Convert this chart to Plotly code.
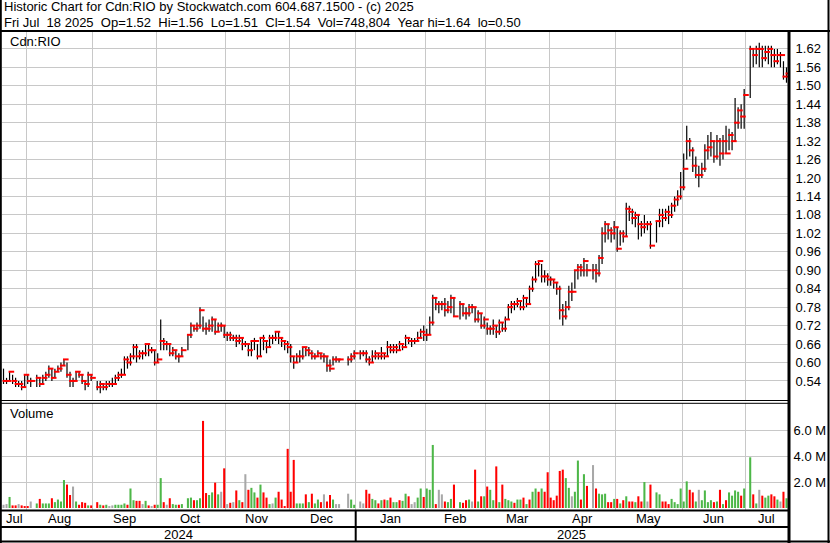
import pandas as pd
import plotly.graph_objects as go

# ---------------- data (weekday slots; None = market holiday) ----------------
DATES = pd.bdate_range("2024-07-22", "2025-07-18")

CLOSE = (
    [0.54, 0.54, 0.57, 0.54, 0.53, 0.53, 0.52, 0.56]
    + [0.54, 0.54, None, 0.55, 0.53, 0.55, 0.56, 0.58, 0.55, 0.57, 0.58, 0.59, 0.61, 0.56, 0.54, 0.54, 0.57, 0.56, 0.54, 0.53, 0.56, 0.55]
    + [None, 0.52, 0.53, 0.52, 0.53, 0.53, 0.53, 0.55, 0.56, 0.56, 0.61, 0.60, 0.62, 0.65, 0.62, 0.63, 0.63, 0.66, 0.64, 0.64, 0.60]
    + [0.61, 0.67, 0.66, 0.66, 0.63, 0.64, 0.62, 0.62, 0.64, None, 0.69, 0.72, 0.71, 0.72, 0.77, 0.71, 0.71, 0.72, 0.74, 0.70, 0.72, 0.72, 0.69]
    + [0.69, 0.68, 0.68, 0.67, 0.68, 0.66, 0.66, 0.64, 0.67, 0.67, 0.62, 0.68, 0.67, 0.65, 0.68, 0.68, 0.70, 0.68, 0.67, 0.66, 0.65]
    + [0.62, 0.60, 0.62, 0.62, 0.65, 0.64, 0.63, 0.62, 0.62, 0.63, 0.62, 0.62, 0.59, 0.58, 0.61, 0.61, 0.61, None, None, 0.61, 0.62, 0.63]
    + [None, 0.63, 0.63, 0.61, 0.60, 0.62, 0.63, 0.62, 0.63, 0.62, 0.65, 0.64, 0.65, 0.64, 0.66, 0.65, 0.68, 0.67, 0.67, 0.67, 0.68, 0.70, 0.69]
    + [0.69, 0.73, 0.81, 0.79, 0.79, 0.79, 0.77, 0.78, 0.81, 0.75, None, 0.79, 0.76, 0.76, 0.78, 0.78, 0.74, 0.76, 0.72, 0.74]
    + [0.71, 0.71, 0.72, 0.70, 0.73, 0.71, 0.74, 0.78, 0.79, 0.79, 0.80, 0.78, 0.81, 0.79, 0.84, 0.87, 0.92, 0.93, 0.88, 0.88, 0.87]
    + [0.87, 0.86, 0.84, 0.77, 0.75, 0.78, 0.83, 0.83, 0.90, 0.91, 0.90, 0.93, 0.90, None, 0.90, 0.89, 0.94, 1.02, 1.05, 1.03, 1.02, 1.04]
    + [0.97, 1.02, 1.01, 1.10, 1.09, 1.07, 1.08, 1.05, 1.04, 1.05, 1.05, 0.98, None, 1.06, 1.08, 1.07, 1.09, 1.08, 1.11, 1.13, 1.14, 1.17]
    + [1.23, 1.32, 1.29, 1.24, 1.21, 1.21, 1.23, 1.29, 1.30, 1.32, 1.27, 1.32, 1.28, 1.32, 1.28, 1.34, 1.32, 1.38, 1.42, 1.40, 1.47]
    + [None, 1.62, 1.60, 1.62, 1.62, 1.59, 1.61, 1.62, 1.60, 1.58, 1.60, 1.60, 1.53, 1.54]
)

HIGH = (
    [0.58, 0.55, 0.57, 0.56, 0.55, 0.54, 0.54, 0.56]
    + [0.56, 0.55, None, 0.56, 0.55, 0.56, 0.57, 0.59, 0.58, 0.58, 0.59, 0.60, 0.61, 0.60, 0.57, 0.55, 0.57, 0.57, 0.56, 0.54, 0.57, 0.56]
    + [None, 0.54, 0.54, 0.53, 0.54, 0.54, 0.55, 0.56, 0.57, 0.58, 0.62, 0.62, 0.63, 0.66, 0.66, 0.64, 0.64, 0.66, 0.66, 0.65, 0.64]
    + [0.63, 0.74, 0.68, 0.67, 0.66, 0.65, 0.64, 0.63, 0.65, None, 0.69, 0.73, 0.72, 0.73, 0.78, 0.75, 0.73, 0.74, 0.75, 0.74, 0.73, 0.73, 0.72]
    + [0.70, 0.70, 0.69, 0.69, 0.69, 0.68, 0.67, 0.66, 0.67, 0.68, 0.66, 0.68, 0.69, 0.67, 0.69, 0.69, 0.70, 0.70, 0.68, 0.67, 0.67]
    + [0.66, 0.62, 0.63, 0.64, 0.65, 0.65, 0.65, 0.64, 0.63, 0.64, 0.63, 0.63, 0.62, 0.61, 0.62, 0.62, 0.61, None, None, 0.62, 0.63, 0.64]
    + [None, 0.64, 0.64, 0.64, 0.62, 0.64, 0.64, 0.63, 0.65, 0.63, 0.67, 0.66, 0.66, 0.66, 0.67, 0.66, 0.69, 0.68, 0.68, 0.68, 0.70, 0.71, 0.72]
    + [0.71, 0.75, 0.82, 0.81, 0.80, 0.80, 0.81, 0.80, 0.82, 0.81, None, 0.80, 0.79, 0.78, 0.79, 0.79, 0.78, 0.77, 0.76, 0.75]
    + [0.73, 0.72, 0.74, 0.72, 0.74, 0.73, 0.75, 0.79, 0.80, 0.80, 0.81, 0.80, 0.82, 0.81, 0.85, 0.88, 0.93, 0.93, 0.92, 0.90, 0.89]
    + [0.88, 0.87, 0.86, 0.85, 0.79, 0.80, 0.85, 0.86, 0.90, 0.92, 0.92, 0.94, 0.92, None, 0.92, 0.92, 0.95, 1.04, 1.06, 1.05, 1.04, 1.06]
    + [1.04, 1.03, 1.03, 1.12, 1.11, 1.10, 1.09, 1.08, 1.06, 1.08, 1.06, 1.06, None, 1.06, 1.10, 1.10, 1.10, 1.11, 1.12, 1.14, 1.16, 1.22]
    + [1.28, 1.37, 1.33, 1.30, 1.27, 1.24, 1.25, 1.31, 1.34, 1.35, 1.32, 1.34, 1.33, 1.34, 1.37, 1.36, 1.35, 1.46, 1.43, 1.44, 1.49]
    + [None, 1.63, 1.62, 1.63, 1.64, 1.63, 1.63, 1.63, 1.63, 1.62, 1.62, 1.61, 1.58, 1.56]
)

LOW = (
    [0.53, 0.53, 0.54, 0.53, 0.52, 0.52, 0.51, 0.52]
    + [0.53, 0.52, None, 0.52, 0.52, 0.53, 0.54, 0.55, 0.54, 0.55, 0.57, 0.57, 0.59, 0.55, 0.52, 0.52, 0.54, 0.55, 0.53, 0.51, 0.52, 0.54]
    + [None, 0.51, 0.50, 0.51, 0.51, 0.52, 0.52, 0.53, 0.54, 0.55, 0.56, 0.58, 0.59, 0.61, 0.60, 0.61, 0.61, 0.62, 0.62, 0.63, 0.59]
    + [0.60, 0.64, 0.64, 0.64, 0.62, 0.62, 0.61, 0.60, 0.62, None, 0.64, 0.68, 0.70, 0.70, 0.71, 0.70, 0.69, 0.70, 0.70, 0.69, 0.70, 0.70, 0.68]
    + [0.67, 0.67, 0.67, 0.65, 0.66, 0.64, 0.65, 0.62, 0.62, 0.64, 0.61, 0.62, 0.64, 0.63, 0.65, 0.66, 0.67, 0.66, 0.65, 0.64, 0.63]
    + [0.60, 0.58, 0.60, 0.60, 0.61, 0.62, 0.62, 0.61, 0.61, 0.62, 0.61, 0.60, 0.57, 0.57, 0.59, 0.60, 0.60, None, None, 0.59, 0.60, 0.61]
    + [None, 0.61, 0.62, 0.60, 0.59, 0.60, 0.61, 0.61, 0.61, 0.61, 0.62, 0.63, 0.63, 0.63, 0.64, 0.64, 0.65, 0.66, 0.65, 0.66, 0.67, 0.68, 0.67]
    + [0.67, 0.69, 0.72, 0.77, 0.76, 0.77, 0.75, 0.76, 0.76, 0.75, None, 0.74, 0.75, 0.74, 0.75, 0.76, 0.73, 0.73, 0.71, 0.71]
    + [0.69, 0.69, 0.69, 0.68, 0.69, 0.70, 0.70, 0.74, 0.76, 0.77, 0.78, 0.77, 0.77, 0.78, 0.79, 0.83, 0.86, 0.88, 0.86, 0.86, 0.85]
    + [0.85, 0.84, 0.82, 0.74, 0.72, 0.74, 0.77, 0.80, 0.84, 0.87, 0.88, 0.88, 0.88, None, 0.87, 0.86, 0.88, 0.92, 0.99, 1.00, 0.99, 1.00]
    + [0.96, 0.98, 0.99, 1.01, 1.06, 1.05, 1.04, 1.00, 1.01, 1.02, 1.03, 0.97, None, 0.99, 1.04, 1.04, 1.06, 1.05, 1.07, 1.09, 1.11, 1.13]
    + [1.16, 1.26, 1.27, 1.22, 1.20, 1.17, 1.20, 1.22, 1.26, 1.27, 1.25, 1.26, 1.24, 1.26, 1.28, 1.29, 1.29, 1.32, 1.36, 1.36, 1.36]
    + [None, 1.46, 1.56, 1.57, 1.56, 1.56, 1.58, 1.57, 1.56, 1.56, 1.57, 1.56, 1.52, 1.51]
)

VOLUME_M = (
    [0.25, 0.3, 0.85, 0.2, 0.2, 0.3, 0.2, 0.15]
    + [0.15, 0.5, None, 0.35, 0.7, 0.35, 0.35, 0.35, 0.75, 0.45, 0.65, 0.5, 2.15, 1.8, 1.0, 1.65, 0.5, 0.25, 0.45, 0.4, 0.2, 0.2]
    + [None, 0.45, 0.25, 0.2, 0.25, 0.15, 0.2, 0.25, 0.25, 0.25, 0.35, 0.25, 1.5, 0.6, 0.55, 0.55, 0.3, 0.55, 0.2, 0.15, 0.25]
    + [0.25, 2.3, 0.45, 0.25, 0.75, 0.3, 0.25, 0.25, 0.3, None, 0.75, 0.8, 0.6, 0.6, 0.75, 6.7, 1.15, 1.0, 1.2, 1.95, 1.05, 1.25, 3.05]
    + [0.3, 0.4, 0.45, 1.35, 0.6, 0.45, 2.6, 1.4, 1.55, 1.2, 0.8, 1.8, 1.2, 0.8, 0.3, 0.35, 0.8, 1.25, 0.65, 0.15, 4.55]
    + [1.25, 3.7, 0.35, 0.35, 0.35, 1.05, 0.45, 1.1, 0.35, 0.65, 0.45, 1.05, 0.5, 1.0, 0.65, 0.3, 0.3, None, None, 1.1, 0.65, 0.25]
    + [None, 0.5, 0.35, 1.4, 1.1, 0.7, 0.6, 0.35, 0.6, 0.65, 0.6, 0.8, 0.45, 0.45, 0.6, 0.55, 1.1, 0.9, 0.3, 0.45, 0.8, 1.5, 0.85]
    + [1.5, 1.4, 4.85, 0.3, 1.4, 1.05, 0.5, 0.45, 0.7, 1.8, None, 0.45, 0.4, 0.6, 0.65, 0.5, 2.95, 0.5, 0.9, 0.9]
    + [1.65, 1.4, 0.6, 3.2, 0.45, 1.8, 0.7, 0.6, 0.5, 0.4, 0.65, 0.65, 0.8, 0.3, 0.65, 1.25, 1.5, 1.25, 1.5, 1.25, 2.75]
    + [0.8, 0.6, 0.95, 2.85, 2.95, 2.3, 1.55, 0.9, 1.25, 3.65, 0.65, 2.6, 1.7, None, 3.3, 1.5, 1.1, 1.05, 1.1, 0.45, 0.45, 0.7]
    + [0.7, 0.35, 0.6, 0.9, 0.5, 0.5, 0.45, 0.9, 0.5, 2.0, 0.5, 1.8, None, 1.2, 1.05, 0.5, 0.5, 0.3, 0.7, 0.45, 0.3, 1.5]
    + [0.5, 2.05, 1.4, 1.2, 0.5, 1.4, 0.6, 1.35, 0.45, 0.6, 0.45, 0.5, 1.4, 0.3, 0.6, 1.2, 0.95, 1.35, 1.25, 0.95, 1.5]
    + [None, 3.9, 1.05, 0.35, 1.4, 0.95, 0.8, 0.95, 1.05, 0.9, 0.65, 0.5, 1.25, 0.748804]
)

# g = up day, r = down day, n = unchanged, - = holiday
VOL_DIR = (
    "nngrrnrr"
    + "rn-grgggrggggrrngrrrgr"
    + "-rgrgnnggggrggrrngrnr"
    + "ggrnrggrg-ggrggrrggrgnr"
    + "nrnrgrnrggrgrrgngrrrr"
    + "rrgggrgrggrnrrgnn--ngg"
    + "-nnrrggrgrgrggrggrnnggr"
    + "gggrnnrggr-grrgnrgrg"
    + "rggrgrgggrggrgrggrgrr"
    + "rrrrrggnggrgr-nrgggrrg"
    + "rgrgrrgrrgnr-ggrrrgggg"
    + "ggrrgnggggrgrgrggggrg"
    + "-grgnrggrrgnrg"
)

PRICE_TICKS = [0.54, 0.60, 0.66, 0.72, 0.78, 0.84, 0.90, 0.96, 1.02, 1.08, 1.14,
               1.20, 1.26, 1.32, 1.38, 1.44, 1.50, 1.56, 1.62]
VOL_TICKS = [2e6, 4e6, 6e6]
VOL_TICK_TEXT = ["2.0 M", "4.0 M", "6.0 M"]

HEADER_1 = "Historic Chart for Cdn:RIO by Stockwatch.com 604.687.1500 - (c) 2025"
HEADER_2 = "Fri Jul  18 2025  Op=1.52  Hi=1.56  Lo=1.51  Cl=1.54  Vol=748,804  Year hi=1.64  lo=0.50"
SYMBOL = "Cdn:RIO"
VOL_TITLE = "Volume"

n = len(DATES)
assert len(CLOSE) == n and len(HIGH) == n and len(LOW) == n, (len(CLOSE), len(HIGH), len(LOW), n)
assert len(VOLUME_M) == n and len(VOL_DIR) == n, (len(VOLUME_M), len(VOL_DIR))

slots = list(range(n))

# ---------------- geometry helpers ----------------
W, H = 830, 543
ML, MR, MT, MB = 2, 42, 32, 33
PW, PH = W - ML - MR, H - MT - MB


def fx(px):
    return (px - ML) / PW


def fy(py):
    return (H - MB - py) / PH


def nb(s):
    return s.replace("  ", " \u00a0")


# month starts / label positions derived from dates
month_start = [0] + [i for i in range(1, n) if DATES[i].month != DATES[i - 1].month]
month_edges = month_start + [n]
grid_x = [i - 0.5 for i in month_start[1:]]
month_labels = [DATES[i].strftime("%b") for i in month_start]
month_mid = [(month_edges[k] + month_edges[k + 1]) / 2 - 0.5 for k in range(len(month_start))]

year_start = [0] + [i for i in range(1, n) if DATES[i].year != DATES[i - 1].year]
year_edges = year_start + [n]
year_labels = [str(DATES[i].year) for i in year_start]
year_mid = [(year_edges[k] + year_edges[k + 1]) / 2 - 0.5 for k in range(len(year_start))]

RED = "#FF0000"
GREEN = "#4DB748"
GRAY = "#A8A8A8"
GRID = "#C8C8C8"
col_map = {"g": GREEN, "r": RED, "n": GRAY, "-": GRAY}

rng = [None if (h is None or l is None) else round(h - l, 4) for h, l in zip(HIGH, LOW)]

fig = go.Figure()

# high-low bars
fig.add_trace(go.Scatter(
    x=slots, y=LOW, mode="markers",
    marker=dict(size=1, color="rgba(0,0,0,0)"),
    error_y=dict(type="data", symmetric=False, array=rng, arrayminus=[0] * n,
                 thickness=1.2, width=0, color="black"),
    xaxis="x", yaxis="y", hoverinfo="skip",
))
# close ticks
fig.add_trace(go.Scatter(
    x=[i + 0.6 for i in slots], y=CLOSE, mode="markers",
    marker=dict(symbol="line-ew", size=4, line=dict(width=2, color=RED)),
    xaxis="x", yaxis="y", hoverinfo="skip",
))
# volume
fig.add_trace(go.Bar(
    x=slots, y=[None if v is None else v * 1e6 for v in VOLUME_M],
    marker=dict(color=[col_map[c] for c in VOL_DIR], line=dict(width=0)),
    width=0.68, xaxis="x2", yaxis="y2", hoverinfo="skip",
))

axis_common = dict(range=[-0.5, n - 0.5], tickvals=grid_x, showticklabels=False,
                   showgrid=True, gridcolor=GRID, gridwidth=1, zeroline=False,
                   showline=False, ticks="", fixedrange=True)

font = dict(family="Arial, 'Liberation Sans', sans-serif", size=13, color="black")

fig.update_layout(
    width=W, height=H,
    margin=dict(l=ML, r=MR, t=MT, b=MB, pad=0),
    paper_bgcolor="white", plot_bgcolor="white",
    showlegend=False, font=font, hovermode=False,
    xaxis=dict(domain=[0, 1], anchor="y", **axis_common),
    xaxis2=dict(domain=[0, 1], anchor="y2", matches="x", **axis_common),
    yaxis=dict(domain=[fy(400), 1], range=[0.478, 1.675], side="right",
               tickvals=PRICE_TICKS, ticktext=[f"{v:.2f}" for v in PRICE_TICKS],
               showgrid=True, gridcolor=GRID, gridwidth=1, zeroline=False,
               showline=False, ticks="outside", ticklen=4, tickcolor="rgba(0,0,0,0)",
               tickfont=font, fixedrange=True),
    yaxis2=dict(domain=[0, fy(403)], range=[-0.154e6, 8.077e6], side="right",
                tickvals=VOL_TICKS, ticktext=VOL_TICK_TEXT,
                showgrid=True, gridcolor=GRID, gridwidth=1, zeroline=False,
                showline=False, ticks="outside", ticklen=2, tickcolor="rgba(0,0,0,0)",
                tickfont=font, fixedrange=True),
)

shapes = []


def hline(py, x0, x1, w):
    shapes.append(dict(type="line", xref="paper", yref="paper", x0=fx(x0), x1=fx(x1),
                       y0=fy(py), y1=fy(py), line=dict(color="black", width=w), layer="above"))


def vline(px, y0, y1, w):
    shapes.append(dict(type="line", xref="paper", yref="paper", x0=fx(px), x1=fx(px),
                       y0=fy(y0), y1=fy(y1), line=dict(color="black", width=w), layer="above"))


hline(31, 0, 830, 2)
hline(400.5, 0, 789, 1)
hline(403.3, 0, 789, 1)
hline(510.5, 0, 789, 2)
hline(527, 0, 789, 2)
hline(541.5, 0, 830, 2)
vline(0.8, 0, 543, 2)
vline(828.5, 0, 543, 2)
vline(789, 30, 543, 3)
for ys in year_start[1:]:
    shapes.append(dict(type="line", xref="x", yref="paper", x0=ys - 0.5, x1=ys - 0.5,
                       y0=fy(510), y1=fy(542), line=dict(color="black", width=2), layer="above"))
fig.update_layout(shapes=shapes)

ann = []
ann.append(dict(text=nb(HEADER_1), x=fx(2), y=fy(7), xref="paper", yref="paper",
                xanchor="left", yanchor="middle", showarrow=False, font=font))
ann.append(dict(text=nb(HEADER_2), x=fx(2), y=fy(22), xref="paper", yref="paper",
                xanchor="left", yanchor="middle", showarrow=False, font=font))
ann.append(dict(text=SYMBOL, x=fx(8), y=fy(41), xref="paper", yref="paper",
                xanchor="left", yanchor="middle", showarrow=False, font=font))
ann.append(dict(text=VOL_TITLE, x=fx(8), y=fy(413), xref="paper", yref="paper",
                xanchor="left", yanchor="middle", showarrow=False, font=font))
for lab, xm in zip(month_labels, month_mid):
    ann.append(dict(text=lab, x=xm, y=fy(518.5), xref="x", yref="paper",
                    xanchor="center", yanchor="middle", showarrow=False, font=font))
for lab, xm in zip(year_labels, year_mid):
    ann.append(dict(text=lab, x=xm, y=fy(534.5), xref="x", yref="paper",
                    xanchor="center", yanchor="middle", showarrow=False, font=font))
fig.update_layout(annotations=ann)

fig.write_html(
    "out.html",
    config={"displayModeBar": False, "staticPlot": True},
    post_script="document.body.style.margin='0';document.body.style.padding='0';"
                "document.body.style.overflow='hidden';",
)
